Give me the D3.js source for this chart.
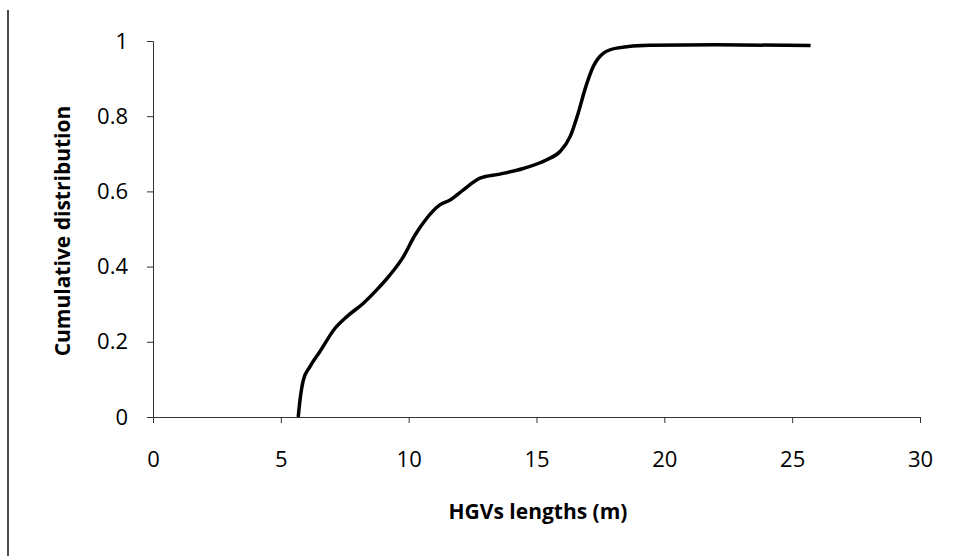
<!DOCTYPE html>
<html><head><meta charset="utf-8">
<script src="https://cdn.jsdelivr.net/npm/d3@7"></script>
<style>body{margin:0;background:#fff}svg{display:block}</style>
</head><body><svg id="c" width="953" height="556"></svg>
<script>
const lengths = [5.68,5.75,5.88,6.14,6.53,7.12,7.58,8.22,8.75,9.27,9.79,10.25,10.70,11.22,11.62,12.14,12.79,13.57,14.48,15.40,15.92,16.31,16.63,16.89,17.22,17.61,18.13,19.44,22.04,25.72];
const cdf = [0,0.045,0.098,0.134,0.174,0.236,0.267,0.302,0.338,0.378,0.426,0.484,0.528,0.564,0.577,0.604,0.635,0.646,0.661,0.684,0.706,0.745,0.808,0.870,0.932,0.967,0.981,0.989,0.990,0.988];
const xTicks = [0,5,10,15,20,25,30];
const yTicks = [0,0.2,0.4,0.6,0.8,1];
const xTitle = "HGVs lengths (m)";
const yTitle = "Cumulative distribution";

const svg = d3.select("#c");
const x = d3.scaleLinear().domain([0,30]).range([153,920]);
const y = d3.scaleLinear().domain([0,1]).range([417,41]);
const font = "'Open Sans', sans-serif";

// left border line
svg.append("line").attr("x1",8).attr("x2",8).attr("y1",10).attr("y2",556).attr("stroke","#111").attr("stroke-width",1.5);

const xa = svg.append("g").attr("transform",`translate(0,${y(0)})`)
  .call(d3.axisBottom(x).tickValues(xTicks).tickSize(6).tickPadding(28).tickFormat(d3.format("d")));
const ya = svg.append("g").attr("transform",`translate(${x(0)},0)`)
  .call(d3.axisLeft(y).tickValues(yTicks).tickSize(6).tickPadding(19).tickFormat(d=>d===0||d===1?String(d):d.toFixed(1)));
[xa,ya].forEach(g=>{
  g.attr("font-size",null).attr("font-family",null);
  g.select(".domain").attr("stroke","#333").attr("stroke-width",1);
  g.selectAll(".tick line").attr("stroke","#333");
  g.selectAll("text").style("font-family",font).style("font-size","22px").attr("fill","#000");
});

svg.append("text").attr("x",538).attr("y",519).attr("text-anchor","middle")
  .style("font-family",font).style("font-weight","bold").style("font-size","21px").text(xTitle);
svg.append("text").attr("transform","translate(70,231) rotate(-90)").attr("text-anchor","middle")
  .style("font-family",font).style("font-weight","bold").style("font-size","21px").text(yTitle);

const line = d3.line().x((d,i)=>x(lengths[i])).y(d=>y(d)).curve(d3.curveMonotoneX);
svg.append("path").datum(cdf).attr("d",line).attr("fill","none").attr("stroke","#000").attr("stroke-width",3.5).attr("stroke-linejoin","round");
</script></body></html>
